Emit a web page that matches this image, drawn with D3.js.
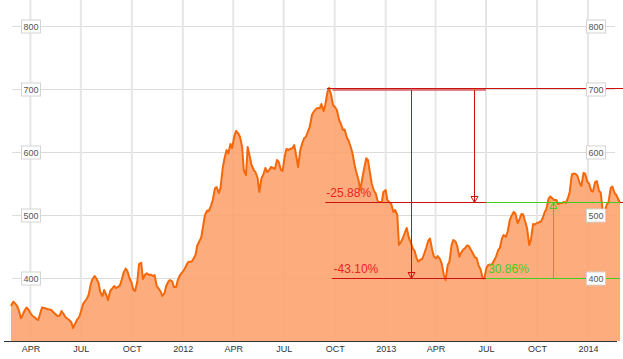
<!DOCTYPE html>
<html><head><meta charset="utf-8">
<script src="https://cdn.jsdelivr.net/npm/d3@7/dist/d3.min.js"></script>
<style>html,body{margin:0;padding:0;background:#fff;}svg{display:block;font-family:"Liberation Sans",Arial,sans-serif;}</style>
</head><body>
<svg id="chart" width="623" height="359"></svg>
<script>
// Friday closes
const fridayDates = [
"2011-02-25","2011-03-04","2011-03-11","2011-03-18","2011-03-25","2011-04-01","2011-04-08","2011-04-15","2011-04-22","2011-04-29",
"2011-05-06","2011-05-13","2011-05-20","2011-05-27","2011-06-03","2011-06-10","2011-06-17","2011-06-24","2011-07-01","2011-07-08",
"2011-07-15","2011-07-22","2011-07-29","2011-08-05","2011-08-12","2011-08-19","2011-08-26","2011-09-02","2011-09-09","2011-09-16",
"2011-09-23","2011-09-30","2011-10-07","2011-10-14","2011-10-21","2011-10-28","2011-11-04","2011-11-11","2011-11-18","2011-11-25",
"2011-12-02","2011-12-09","2011-12-16","2011-12-23","2011-12-30",
"2012-01-06","2012-01-13","2012-01-20","2012-01-27","2012-02-03","2012-02-10","2012-02-17","2012-02-24","2012-03-02","2012-03-09",
"2012-03-16","2012-03-23","2012-03-30","2012-04-06","2012-04-13","2012-04-20","2012-04-27","2012-05-04","2012-05-11","2012-05-18",
"2012-05-25","2012-06-01","2012-06-08","2012-06-15","2012-06-22","2012-06-29","2012-07-06","2012-07-13","2012-07-20","2012-07-27",
"2012-08-03","2012-08-10","2012-08-17","2012-08-24","2012-08-31","2012-09-07","2012-09-14","2012-09-21","2012-09-28","2012-10-05",
"2012-10-12","2012-10-19","2012-10-26","2012-11-02","2012-11-09","2012-11-16","2012-11-23","2012-11-30","2012-12-07","2012-12-14",
"2012-12-21","2012-12-28",
"2013-01-04","2013-01-11","2013-01-18","2013-01-25","2013-02-01","2013-02-08","2013-02-15","2013-02-22","2013-03-01","2013-03-08",
"2013-03-15","2013-03-22","2013-03-29","2013-04-05","2013-04-12","2013-04-19","2013-04-26","2013-05-03","2013-05-10","2013-05-17",
"2013-05-24","2013-05-31","2013-06-07","2013-06-14","2013-06-21","2013-06-28","2013-07-05","2013-07-12","2013-07-19","2013-07-26",
"2013-08-02","2013-08-09","2013-08-16","2013-08-23","2013-08-30","2013-09-06","2013-09-13","2013-09-20","2013-09-27","2013-10-04",
"2013-10-11","2013-10-18","2013-10-25","2013-11-01","2013-11-08","2013-11-15","2013-11-22","2013-11-29","2013-12-06","2013-12-13",
"2013-12-20","2013-12-27",
"2014-01-03","2014-01-10","2014-01-17","2014-01-24","2014-01-31","2014-02-07","2014-02-14","2014-02-21","2014-02-28"
];
const fridayCloses = [
355.6,360.4,349.2,341.3,353.2,344.5,338.1,333.4,353.2,351.6,
350.0,345.3,339.7,347.6,338.1,333.4,320.6,333.4,346.1,362.7,
373.1,398.5,399.3,377.8,381.0,365.1,382.6,384.2,387.4,408.0,
411.2,393.7,379.4,422.3,398.5,407.5,405.6,404.8,383.7,371.5,
387.4,396.9,385.8,396.9,408.0,
417.5,426.0,430.2,451.7,463.6,500.1,506.5,524.0,544.6,543.0,
589.1,598.1,606.5,633.5,624.8,571.6,608.1,579.5,568.4,536.7,
563.7,568.4,576.4,573.2,584.3,570.0,605.0,605.0,611.3,576.4,
612.9,624.0,639.9,663.7,670.1,676.4,674.8,702.0,674.8,666.9,
645.5,635.9,618.5,598.6,568.4,539.8,573.2,587.5,549.4,534.6,
520.8,536.7,
524.0,517.6,508.1,452.5,463.6,479.5,457.2,443.7,426.3,430.2,
447.7,462.8,434.2,435.0,423.4,396.9,425.5,460.4,450.9,439.8,
447.2,450.9,439.8,431.8,414.4,399.4,420.7,421.5,433.4,447.7,
468.4,473.1,498.5,502.5,492.2,500.9,479.5,460.4,485.0,488.2,
494.6,509.7,529.5,524.0,517.6,519.2,519.2,536.7,566.0,562.1,
546.2,565.6,
550.2,537.4,554.1,535.9,505.7,520.0,545.4,531.9,519.2
];
// Tuesday closes
const tuesdayDates = [
"2011-03-01","2011-03-08","2011-03-15","2011-03-22","2011-03-29","2011-04-05","2011-04-12","2011-04-19","2011-04-26","2011-05-03",
"2011-05-10","2011-05-17","2011-05-24","2011-05-31","2011-06-07","2011-06-14","2011-06-21","2011-06-28","2011-07-05","2011-07-12",
"2011-07-19","2011-07-26","2011-08-02","2011-08-09","2011-08-16","2011-08-23","2011-08-30","2011-09-06","2011-09-13","2011-09-20",
"2011-09-27","2011-10-04","2011-10-11","2011-10-18","2011-10-25","2011-11-01","2011-11-08","2011-11-15","2011-11-22","2011-11-29",
"2011-12-06","2011-12-13","2011-12-20","2011-12-27",
"2012-01-03","2012-01-10","2012-01-17","2012-01-24","2012-01-31","2012-02-07","2012-02-14","2012-02-21","2012-02-28","2012-03-06",
"2012-03-13","2012-03-20","2012-03-27","2012-04-03","2012-04-10","2012-04-17","2012-04-24","2012-05-01","2012-05-08","2012-05-15",
"2012-05-22","2012-05-29","2012-06-05","2012-06-12","2012-06-19","2012-06-26","2012-07-03","2012-07-10","2012-07-17","2012-07-24",
"2012-07-31","2012-08-07","2012-08-14","2012-08-21","2012-08-28","2012-09-04","2012-09-11","2012-09-18","2012-09-25","2012-10-02",
"2012-10-09","2012-10-16","2012-10-23","2012-10-30","2012-11-06","2012-11-13","2012-11-20","2012-11-27","2012-12-04","2012-12-11",
"2012-12-18","2012-12-25",
"2013-01-01","2013-01-08","2013-01-15","2013-01-22","2013-01-29","2013-02-05","2013-02-12","2013-02-19","2013-02-26","2013-03-05",
"2013-03-12","2013-03-19","2013-03-26","2013-04-02","2013-04-09","2013-04-16","2013-04-23","2013-04-30","2013-05-07","2013-05-14",
"2013-05-21","2013-05-28","2013-06-04","2013-06-11","2013-06-18","2013-06-25","2013-07-02","2013-07-09","2013-07-16","2013-07-23",
"2013-07-30","2013-08-06","2013-08-13","2013-08-20","2013-08-27","2013-09-03","2013-09-10","2013-09-17","2013-09-24","2013-10-01",
"2013-10-08","2013-10-15","2013-10-22","2013-10-29","2013-11-05","2013-11-12","2013-11-19","2013-11-26","2013-12-03","2013-12-10",
"2013-12-17","2013-12-24","2013-12-31",
"2014-01-07","2014-01-14","2014-01-21","2014-01-28","2014-02-04","2014-02-11","2014-02-18"
];
const tuesdayCloses = [
362.4,355.6,336.1,349.2,349.2,339.7,334.9,344.5,352.4,350.3,
348.4,342.1,340.5,342.9,335.3,329.4,327.8,338.1,358.8,367.5,
390.5,403.2,392.1,371.5,373.1,379.4,387.4,385.8,397.7,415.2,
399.3,381.0,395.3,424.4,405.6,404.8,403.2,387.4,378.6,376.2,
394.5,394.5,385.8,404.8,
412.8,424.7,426.3,436.6,458.8,484.2,507.3,515.2,542.5,535.1,
574.8,603.4,612.9,625.6,629.6,608.6,563.7,592.2,571.6,558.9,
558.4,574.8,571.6,574.8,587.5,571.6,593.8,603.4,606.5,592.2,
603.4,622.4,633.5,659.0,668.5,669.6,665.3,695.5,689.1,670.9,
651.0,635.1,623.2,608.1,579.5,555.7,558.9,590.2,565.2,538.2,
520.8,520.8,
539.8,520.0,504.9,500.1,457.7,473.1,463.6,446.9,431.0,429.4,
439.8,459.6,444.5,431.4,430.2,404.8,420.7,452.5,458.0,433.9,
445.3,451.7,444.5,432.9,419.1,399.6,416.7,421.5,428.7,444.5,
463.6,465.7,492.2,504.9,487.4,501.7,489.0,452.5,485.8,487.4,
489.8,504.9,526.3,526.3,524.0,519.2,520.8,527.1,564.5,565.2,
551.0,566.8,552.5,
538.2,552.5,538.2,503.3,516.8,543.0,535.1
];
const tickDates = ["2011-04-01","2011-07-01","2011-10-01","2012-01-01","2012-04-01","2012-07-01","2012-10-01","2013-01-01","2013-04-01","2013-07-01","2013-10-01","2014-01-01"];
const tickLabels = ["APR","JUL","OCT","2012","APR","JUL","OCT","2013","APR","JUL","OCT","2014"];
const yTicks = [400,500,600,700,800];

// drawdown / rebound annotation
const peakDate = "2012-09-17", peakValue = 702;
const drop1Pct = "-25.88%", drop1Value = 520.3, drop1Date = "2013-06-10";
const drop2Pct = "-43.10%", drop2Value = 399.5, drop2Date = "2013-02-15";
const lowDate = "2013-07-01";
const reboundPct = "30.86%", reboundDate = "2013-10-30";

const parse = d3.utcParse("%Y-%m-%d");
const data = fridayDates.map((d,i)=>({date:parse(d), value:fridayCloses[i]}))
  .concat(tuesdayDates.map((d,i)=>({date:parse(d), value:tuesdayCloses[i]})))
  .sort((a,b)=>a.date-b.date);

const svg = d3.select("#chart");
const W = 623, H = 359;
const x = d3.scaleUtc().domain([parse("2011-02-25"), parse("2014-02-26")]).range([11, 619]);
const y = d3.scaleLinear().domain([300, 800]).range([341, 26.2]);

// grid
const grid = svg.append("g");
grid.selectAll("line.h").data(yTicks).join("line")
  .attr("x1", 12).attr("x2", 615)
  .attr("y1", d=>Math.round(y(d))+0.5).attr("y2", d=>Math.round(y(d))+0.5)
  .attr("stroke", "#dcdcdc").attr("stroke-width", 1);
grid.selectAll("line.v").data(tickDates).join("line")
  .attr("x1", d=>x(parse(d))).attr("x2", d=>x(parse(d)))
  .attr("y1", 0).attr("y2", 341)
  .attr("stroke", "#e6e6e6").attr("stroke-width", 2);

// area + line
const area = d3.area().x(d=>x(d.date)).y0(y(300)).y1(d=>y(d.value));
const line = d3.line().x(d=>x(d.date)).y(d=>y(d.value));
svg.append("path").datum(data).attr("d", area).attr("fill", "#fda36f").attr("fill-opacity", 0.9);
svg.append("path").datum(data).attr("d", line).attr("fill", "none")
  .attr("stroke", "#f5680a").attr("stroke-width", 2).attr("stroke-linejoin", "round");

// x axis
svg.append("line").attr("x1", 4).attr("x2", 617).attr("y1", 341.5).attr("y2", 341.5)
  .attr("stroke", "#333").attr("stroke-width", 1);
const xa = svg.append("g").attr("transform", "translate(0,341)")
  .call(d3.axisBottom(x).tickValues(tickDates.map(parse)).tickFormat((d,i)=>tickLabels[i]).tickSize(0).tickPadding(5));
xa.select(".domain").remove();
xa.selectAll("text").attr("font-size", 9).attr("fill", "#333").attr("font-family", "Liberation Sans, Arial, sans-serif");

// annotation lines
const red = "#cc1111", green = "#44cc22";
const ann = svg.append("g").attr("fill", "none");
const yPk = Math.round(y(peakValue))+0.5;
ann.append("line").attr("x1", x(parse(peakDate))).attr("x2", W).attr("y1", yPk).attr("y2", yPk).attr("stroke", red);
ann.append("line").attr("x1", x(parse("2012-09-27"))).attr("x2", x(parse(lowDate))).attr("y1", yPk+1.5).attr("y2", yPk+1.5).attr("stroke", red);
const yD1 = Math.round(y(drop1Value))+0.5, yD2 = Math.round(y(drop2Value))+0.5;
ann.append("line").attr("x1", x(parse("2012-09-14"))).attr("x2", W).attr("y1", yD1).attr("y2", yD1).attr("stroke", red);
ann.append("line").attr("x1", x(parse("2012-09-26"))).attr("x2", x(parse(lowDate))).attr("y1", yD2).attr("y2", yD2).attr("stroke", red);
ann.append("line").attr("x1", x(parse(lowDate))).attr("x2", 620).attr("y1", yD1).attr("y2", yD1).attr("stroke", green);
ann.append("line").attr("x1", x(parse(lowDate))).attr("x2", 620).attr("y1", yD2).attr("y2", yD2).attr("stroke", green);
function downArrow(dateStr, yBottom, col) {
  const xx = Math.round(x(parse(dateStr)))+0.5;
  ann.append("line").attr("x1", xx).attr("x2", xx).attr("y1", yPk+1.5).attr("y2", yBottom).attr("stroke", col);
  ann.append("path").attr("d", `M${xx-3.5},${yBottom-6}L${xx+3.5},${yBottom-6}L${xx},${yBottom}Z`).attr("stroke", col).attr("fill", "none");
}
downArrow(drop2Date, yD2, red);
downArrow(drop1Date, yD1, red);
const xr = Math.round(x(parse(reboundDate)))+0.5;
ann.append("line").attr("x1", xr).attr("x2", xr).attr("y1", yD2).attr("y2", yD1).attr("stroke", green);
ann.append("path").attr("d", `M${xr-3.5},${yD1+6}L${xr+3.5},${yD1+6}L${xr},${yD1}Z`).attr("stroke", green).attr("fill", "none");

// annotation texts
const txt = svg.append("g").attr("font-size", 12).attr("font-family", "Liberation Sans, Arial, sans-serif");
txt.append("text").attr("x", x(parse("2012-09-16"))).attr("y", yD1-6).attr("fill", "#e22").text(drop1Pct);
txt.append("text").attr("x", x(parse("2012-09-29"))).attr("y", yD2-6).attr("fill", "#e22").text(drop2Pct);
txt.append("text").attr("x", x(parse("2013-07-05"))).attr("y", yD2-6).attr("fill", "#44cc22").text(reboundPct);

// y labels (both sides)
function yLabels(cx) {
  const g = svg.append("g");
  const gg = g.selectAll("g").data(yTicks).join("g").attr("transform", d=>`translate(${cx},${Math.round(y(d))})`);
  gg.append("rect").attr("x", -9.5).attr("y", -6).attr("width", 19).attr("height", 13)
    .attr("fill", "#fff").attr("stroke", "#d4d4d4");
  gg.append("text").attr("text-anchor", "middle").attr("y", 3.5).attr("font-size", 9).attr("fill", "#555")
    .attr("font-family", "Liberation Sans, Arial, sans-serif").text(d=>d);
}
yLabels(31);
yLabels(596);
</script>
</body></html>
